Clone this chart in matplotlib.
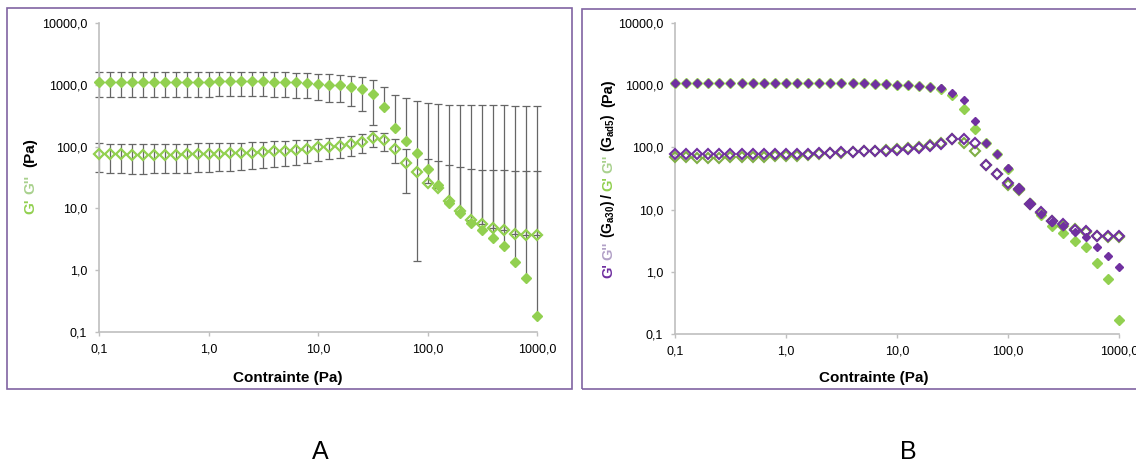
import numpy as np
import matplotlib
matplotlib.use("Agg")
import matplotlib.pyplot as plt
from matplotlib.ticker import FixedLocator, FuncFormatter, NullLocator
from matplotlib.patches import Rectangle

plt.rcParams['font.family'] = ['Liberation Sans', 'DejaVu Sans']
plt.rcParams['mathtext.fontset'] = 'custom'
plt.rcParams['mathtext.rm'] = 'Liberation Sans:bold'
plt.rcParams['mathtext.it'] = 'Liberation Sans:bold'
plt.rcParams['mathtext.bf'] = 'Liberation Sans:bold'

# ---------------- data ----------------
stress = [0.1, 0.126, 0.158, 0.2, 0.251, 0.316, 0.398, 0.501, 0.631, 0.794,
          1.0, 1.26, 1.58, 2.0, 2.51, 3.16, 3.98, 5.01, 6.31, 7.94,
          10.0, 12.6, 15.8, 20.0, 25.1, 31.6, 39.8, 50.1, 63.1, 79.4,
          100, 126, 158, 200, 251, 316, 398, 501, 631, 794, 1000]

# Panel A (mean with error bars)
gp_A = [1120, 1130, 1130, 1130, 1130, 1130, 1130, 1130, 1130, 1130,
        1130, 1140, 1140, 1140, 1140, 1140, 1130, 1120, 1100, 1080,
        1040, 1000, 990, 930, 860, 715, 445, 200, 124, 79,
        44, 24, 12.3, 8.5, 5.9, 4.5, 3.3, 2.5, 1.36, 0.76, 0.18]
gpp_A = [76, 75, 75, 73, 73, 74, 74, 74, 75, 76,
         76, 77, 78, 79, 80, 82, 84, 86, 89, 92,
         97, 100, 104, 110, 120, 139, 126, 93, 55, 39,
         26, 21, 13, 9, 6.6, 5.6, 4.9, 4.5, 3.9, 3.7, 3.7]
gp_err_A = [490, 490, 490, 490, 490, 490, 490, 490, 490, 490,
            490, 490, 490, 490, 490, 490, 490, 490, 480, 470,
            470, 470, 470, 480, 490, 490, 490, 490, 495, 470,
            460, 460, 460, 460, 460, 460, 460, 460, 460, 460, 460]
gpp_err_A = [37, 37, 37, 37, 37, 37, 37, 37, 37, 37,
             37, 37, 37, 37, 37, 37, 37, 37, 38, 38,
             38, 38, 39, 40, 40, 41, 40, 38, 37, 37.6,
             37, 37, 37, 37, 37, 37, 37, 37, 37, 37, 37]

# Panel B (two samples)
gp_a30 = [1080, 1080, 1080, 1080, 1080, 1080, 1080, 1080, 1080, 1080,
          1080, 1080, 1090, 1090, 1090, 1090, 1080, 1070, 1060, 1040,
          1020, 1000, 975, 950, 890, 740, 580, 265, 119, 78,
          46, 22, 12.6, 8.6, 6.4, 5.5, 4.4, 3.6, 2.5, 1.8, 1.2]
gpp_a30 = [78, 78, 78, 77, 77, 78, 78, 77, 77, 77,
           78, 78, 79, 80, 81, 83, 84, 86, 88, 89,
           91, 94, 99, 106, 113, 135, 136, 116, 53, 38,
           27, 21.5, 12.2, 9.0, 6.6, 5.8, 4.7, 4.5, 3.8, 3.7, 3.7]
gp_ad5 = [1080, 1080, 1080, 1080, 1080, 1080, 1080, 1080, 1080, 1080,
          1080, 1080, 1090, 1090, 1090, 1090, 1080, 1070, 1060, 1040,
          1020, 1000, 975, 950, 880, 700, 420, 197, 119, 78,
          45, 22, 12.6, 8.3, 5.5, 4.2, 3.16, 2.5, 1.36, 0.76, 0.17]
gpp_ad5 = [70, 70, 68, 67, 68, 69, 70, 70, 71, 72,
           73, 74, 76, 78, 80, 82, 84, 86, 88, 90,
           93, 97, 102, 108, 116, 135, 116, 87, 53, 38,
           25, 21, 12.5, 8.8, 6.5, 5.5, 4.8, 4.3, 3.8, 3.6, 3.6]

tick_vals = [0.1, 1, 10, 100, 1000, 10000]

GREEN = '#92d050'
LGREEN = '#a9d18e'
DGREEN = '#7fae45'
PURPLE = '#7030a0'
LPURPLE = '#b2a1c7'
FRAME = '#8064a2'
SPINE = '#bfbfbf'

W, H = 1136, 466
fig = plt.figure(figsize=(W / 100, H / 100), dpi=100)


def px_rect(x0, y0, x1, y1):
    return [x0 / W, 1 - y1 / H, (x1 - x0) / W, (y1 - y0) / H]


fmt = FuncFormatter(lambda v, p: f"{v:.1f}".replace('.', ','))


def style_axes(ax):
    ax.set_xscale('log')
    ax.set_yscale('log')
    ax.set_xlim(0.1, 1000)
    ax.set_ylim(0.1, 10000)
    ax.xaxis.set_major_locator(FixedLocator(tick_vals[:5]))
    ax.yaxis.set_major_locator(FixedLocator(tick_vals))
    ax.xaxis.set_minor_locator(NullLocator())
    ax.yaxis.set_minor_locator(NullLocator())
    ax.xaxis.set_major_formatter(fmt)
    ax.yaxis.set_major_formatter(fmt)
    for s in ['top', 'right']:
        ax.spines[s].set_visible(False)
    for s in ['left', 'bottom']:
        ax.spines[s].set_color(SPINE)
        ax.spines[s].set_linewidth(1.2)
    ax.tick_params(axis='both', direction='out', length=3, width=1,
                   color=SPINE, labelsize=9, labelcolor='black')
    ax.tick_params(axis='y', pad=5.5)
    ax.tick_params(axis='x', pad=5)
    ax.set_facecolor('none')


# frames
fig.add_artist(Rectangle((7 / W, 1 - 389 / H), (572 - 7) / W, (389 - 8) / H,
                         transform=fig.transFigure, fill=False,
                         edgecolor=FRAME, linewidth=1.2))
fig.add_artist(Rectangle((582 / W, 1 - 389 / H), (1150 - 582) / W, (389 - 9) / H,
                         transform=fig.transFigure, fill=False,
                         edgecolor=FRAME, linewidth=1.2, clip_on=False))

# ---------------- panel A ----------------
axA = fig.add_axes(px_rect(99, 23, 537, 332))
style_axes(axA)

x = np.array(stress)
gpA = np.array(gp_A)
gppA = np.array(gpp_A)
eA = np.array(gp_err_A)
eppA = np.array(gpp_err_A)
lowA = np.where(gpA - eA > 0, eA, 0.0)
lowppA = np.where(gppA - eppA > 0, eppA, 0.0)

ebkw = dict(fmt='none', ecolor='#666666', elinewidth=0.9, capsize=2.6,
            capthick=0.9, zorder=2, clip_on=False)
axA.errorbar(x, gpA, yerr=[lowA, eA], **ebkw)
axA.errorbar(x, gppA, yerr=[lowppA, eppA], **ebkw)
axA.plot(x, gpA, 'D', ms=5.6, color=GREEN, mec=GREEN, zorder=3, clip_on=False)
axA.plot(x, gppA, 'D', ms=5.0, mfc='none', mec=GREEN, mew=1.6, zorder=4,
         clip_on=False)

# ---------------- panel B ----------------
axB = fig.add_axes(px_rect(675, 23, 1119, 334))
style_axes(axB)
axB.plot(x, gp_ad5, 'D', ms=5.2, color=GREEN, mec=GREEN, zorder=3, clip_on=False)
axB.plot(x, gpp_ad5, 'D', ms=4.6, mfc='none', mec=DGREEN, mew=1.5, zorder=4,
         clip_on=False)
axB.plot(x, gp_a30, 'D', ms=3.8, color=PURPLE, mec=PURPLE, zorder=5, clip_on=False)
axB.plot(x, gpp_a30, 'D', ms=4.6, mfc='none', mec=PURPLE, mew=1.5, zorder=6,
         clip_on=False)

# x labels
fig.text(288 / W, 1 - 378 / H, 'Contrainte (Pa)', ha='center', va='center',
         fontsize=11, fontweight='bold', color='black')
fig.text(874 / W, 1 - 378 / H, 'Contrainte (Pa)', ha='center', va='center',
         fontsize=11, fontweight='bold', color='black')

# panel letters
fig.text(320 / W, 1 - 452 / H, 'A', ha='center', va='center', fontsize=18)
fig.text(908 / W, 1 - 452 / H, 'B', ha='center', va='center', fontsize=18)

# rotated multicolour y labels
renderer = fig.canvas.get_renderer()


def stacked_label(x_base_px, y_bottom_px, pieces, fontsize=11):
    y = y_bottom_px
    space = 0.278 * fontsize * 100 / 72
    for text, color, nsp, fs in pieces:
        t = fig.text(x_base_px / W, 1 - y / H, text, rotation=90,
                     rotation_mode='anchor', ha='left', va='baseline',
                     fontsize=fs, fontweight='bold', color=color)
        bb = t.get_window_extent(renderer=renderer)
        y -= bb.height + nsp * space


stacked_label(34, 214, [("G'", GREEN, 1, 11), ("G''", LGREEN, 2, 11),
                        ("(Pa)", 'black', 0, 11)])

stacked_label(612, 278, [("G'", PURPLE, 0.8, 10.5), ("G''", LPURPLE, 0.8, 10.5),
                         (r"$\mathrm{(G_{a30})}$", 'black', 0.6, 10),
                         ("/", 'black', 0.6, 10.5),
                         ("G'", GREEN, 0.8, 10.5), ("G''", LGREEN, 0.8, 10.5),
                         (r"$\mathrm{(G_{ad5})}$", 'black', 1.5, 10),
                         ("(Pa)", 'black', 0, 10.5)], fontsize=10.5)

fig.savefig('out.png', dpi=100)
